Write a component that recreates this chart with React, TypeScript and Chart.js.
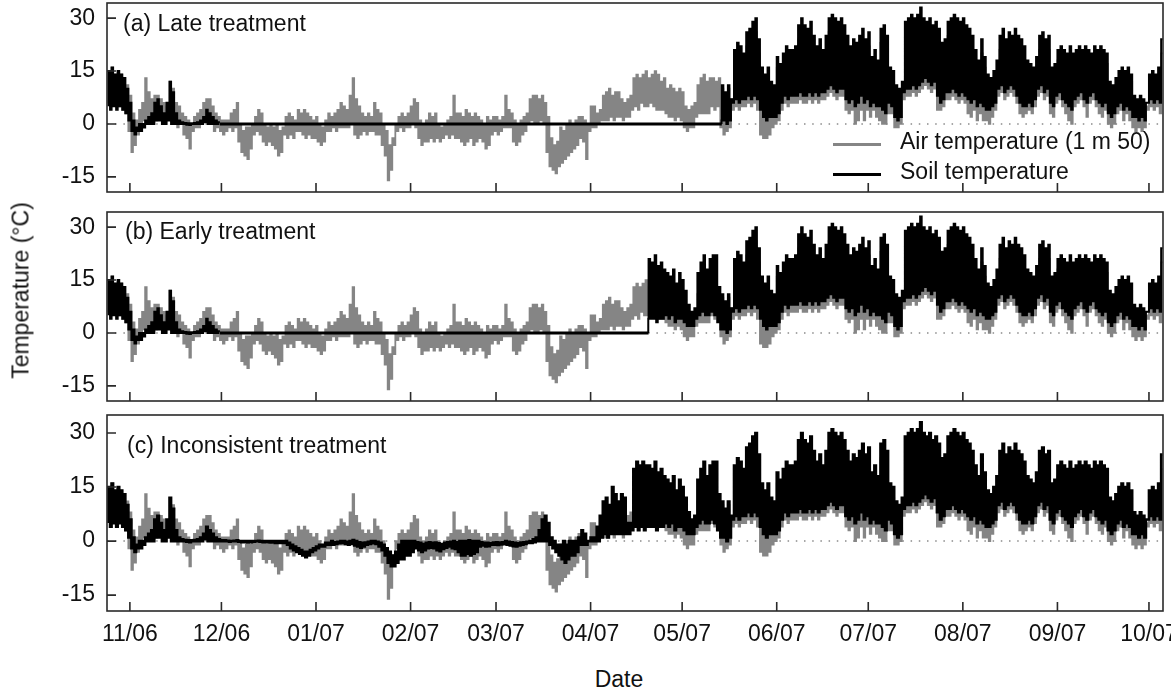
import { useEffect, useRef } from "react";
import { Chart, registerables } from "chart.js";

Chart.register(...registerables);

// Day index 0 = 1 Nov 2006. Each month row starts at the day listed here.
const monthStartDays = [-7, 0, 30, 61, 92, 120, 151, 181, 212, 242, 273, 304, 334];
const tickDays = [0, 30, 61, 92, 120, 151, 181, 212, 242, 273, 304, 334];
const tickLabels = ["11/06", "12/06", "01/07", "02/07", "03/07", "04/07", "05/07", "06/07", "07/07", "08/07", "09/07", "10/07"];
const yTickValues = [-15, 0, 15, 30];

// Daily maximum air temperature (1 m 50), °C — rows: Oct(25-31), Nov, Dec, Jan, Feb, Mar, Apr, May, Jun, Jul, Aug, Sep, Oct(1-5)
const airHigh = [
  [15, 16, 14, 15, 14, 13, 11],
  [8, 3, 1, 4, 6, 13, 9, 7, 8, 8, 7, 6, 5, 12, 10, 6, 5, 3, 2, 1, 0, 2, 3, 4, 6, 7, 7, 5, 3, 2],
  [1, 1, 1, 3, 4, 6, 0, -2, -1, -1, 0, 2, 4, 3, 0, -1, 0, -1, 0, -2, -1, 2, 3, 2, 1, 4, 3, 4, 3, 2, 1],
  [2, 0, -1, 1, 3, 2, 3, 4, 6, 5, 4, 8, 13, 7, 5, 3, 2, 3, 2, 6, 4, 3, 0, -2, -6, -4, 0, 2, 3, 2, 3],
  [5, 7, 6, 1, 0, 1, 3, 2, 3, 0, -1, 0, 1, 2, 8, 3, 3, 2, 4, 3, 2, 3, 2, 1, 0, 2, 1, 2],
  [2, 1, 2, 8, 4, 3, 1, 0, 1, 2, 3, 7, 8, 8, 7, 8, 6, 2, -4, -6, -5, -1, -2, 0, 1, 0, 1, 2, 2, 1, 0],
  [5, 5, 3, 4, 8, 9, 10, 8, 9, 9, 7, 6, 7, 8, 13, 14, 13, 14, 15, 13, 14, 15, 14, 12, 13, 10, 11, 10, 9, 10],
  [9, 5, 4, 5, 6, 11, 13, 14, 12, 13, 13, 12, 13, 10, 8, 10, 7, 18, 20, 19, 17, 22, 23, 25, 26, 20, 13, 11, 13, 10, 9],
  [16, 14, 17, 19, 18, 18, 19, 24, 26, 24, 23, 25, 21, 19, 20, 18, 21, 26, 27, 26, 25, 26, 24, 21, 19, 20, 19, 21, 23, 20],
  [22, 16, 18, 15, 23, 24, 21, 13, 12, 9, 8, 10, 25, 26, 27, 26, 27, 29, 26, 25, 26, 24, 25, 23, 19, 20, 25, 26, 27, 26, 25],
  [26, 24, 23, 21, 18, 15, 20, 16, 12, 11, 12, 15, 21, 23, 20, 22, 21, 23, 21, 20, 18, 15, 14, 13, 16, 21, 22, 20, 21, 13, 14],
  [18, 19, 18, 17, 18, 17, 18, 19, 18, 19, 18, 17, 19, 18, 19, 18, 17, 10, 9, 11, 13, 14, 13, 14, 12, 6, 6, 7, 6, 5],
  [12, 13, 12, 14, 20],
];

// Daily minimum air temperature, °C
const airLow = [
  [6, 5, 6, 5, 5, 4, 3],
  [-2, -8, -6, -3, -1, 1, 0, 1, 0, 1, 2, 1, 0, 2, 1, 0, -1, 0, -3, -4, -7, -2, -1, -1, 0, 1, 0, 0, -2, -1],
  [-2, -3, -2, -1, -2, -1, -5, -8, -9, -10, -7, -3, -2, -3, -5, -6, -5, -6, -7, -9, -8, -3, -4, -3, -4, -2, -2, -3, -4, -3, -4],
  [-4, -5, -6, -5, -2, -2, -1, -2, -1, -1, -1, -1, 0, -3, -4, -3, -2, -3, -2, -2, -3, -3, -6, -9, -16, -13, -6, -2, -1, -2, -1],
  [-1, 0, -1, -4, -6, -5, -5, -4, -5, -4, -5, -4, -3, -4, -3, -4, -4, -5, -6, -5, -4, -6, -5, -4, -5, -7, -6, -3],
  [-2, -3, -2, -1, -1, -1, -5, -6, -5, -3, -2, 0, 1, 0, 0, 1, 0, -8, -12, -13, -14, -12, -11, -10, -9, -8, -7, -6, -4, -5, -10],
  [-2, -1, -1, 0, 1, 1, 1, 2, 1, 2, 2, 1, 2, 2, 4, 5, 4, 6, 5, 5, 6, 5, 4, 4, 4, 3, 2, 2, 1, 2],
  [1, -1, -2, -1, -1, 2, 3, 3, 3, 3, 5, 4, 5, -1, -3, -2, -1, 4, 5, 4, 5, 5, 6, 5, 6, 4, -3, -4, -4, -3, -1],
  [0, 1, 4, 6, 5, 6, 6, 6, 7, 6, 6, 7, 6, 7, 6, 7, 7, 8, 9, 8, 7, 8, 8, 4, 3, 4, 0, 1, 4, 1],
  [4, 2, 4, 2, 1, 0, 0, 3, 3, -1, -1, 0, 7, 8, 8, 9, 8, 9, 10, 11, 10, 9, 10, 4, 4, 5, 7, 7, 8, 7, 6],
  [7, 6, 3, 2, 4, 1, 3, 1, 1, 0, 2, 4, 8, 9, 7, 8, 9, 8, 6, 3, 2, 3, 4, 3, 5, 8, 9, 7, 8, 3, 2],
  [6, 7, 5, 3, 1, 0, 5, 6, 7, 5, 2, 6, 7, 5, 3, 2, 4, 0, -1, 0, 3, 4, 1, 3, 1, -1, -2, -1, -2, -1],
  [4, 5, 4, 5, 3],
];

// Daily maximum soil temperature, °C
const soilHigh = [
  [15, 16, 14, 15, 14, 13, 10],
  [6, 1, -1, 0, 0, 1, 2, 3, 6, 7, 5, 3, 6, 12, 9, 3, 1, 0.5, 0.3, 0.2, 0.2, 0.3, 0.5, 1, 2, 4, 3, 2, 1, 0.5],
  [0.2, 0.2, 0.1, 0, 0.1, 0.2, 0, 0, 0, 0, 0, 0, 0.1, 0, 0, 0, 0, 0, 0, 0, 0, 0, -0.5, -1, -1.5, -2, -2.5, -3, -3, -2.5, -2],
  [-1.5, -1, -1, -0.5, -0.5, 0, -0.3, -0.2, 0, 0, -0.2, 0, 0.3, 0, -0.3, -0.5, -0.4, -0.2, 0, 0, -0.2, -0.5, -1, -2, -3, -4, -3, -1, 0, 0, 0],
  [0, 0, -0.3, -0.5, -0.8, -0.5, -0.3, -0.5, -0.4, -0.6, -0.8, -0.5, -0.3, -0.2, 0, -0.3, 0, 0, 0, 0.2, 0, 0, 0, -0.3, -0.5, -0.5, -0.6, -0.4],
  [-0.3, -0.4, -0.3, 0, -0.2, -0.3, -0.5, -0.6, -0.4, -0.3, -0.2, 0, 0.5, 1, 3, 6, 7, 5, 1, 0, -1, -1, 0, -1, 0, 0, 0, 1, 3, 2, 0],
  [1, 1, 4, 7, 11, 12, 10, 15, 13, 11, 13, 12, 5, 5, 20, 22, 21, 22, 21, 21, 20, 22, 19, 20, 18, 17, 16, 18, 14, 17],
  [15, 12, 8, 6, 7, 17, 20, 22, 18, 21, 22, 22, 13, 11, 9, 11, 7, 21, 23, 22, 20, 26, 27, 29, 30, 24, 16, 14, 16, 12, 11],
  [19, 17, 20, 22, 21, 21, 22, 28, 30, 28, 27, 29, 25, 22, 24, 21, 25, 30, 31, 30, 29, 30, 28, 25, 22, 24, 23, 25, 27, 24],
  [26, 19, 21, 18, 27, 28, 25, 16, 15, 11, 10, 12, 29, 30, 31, 30, 31, 33, 30, 29, 30, 28, 29, 27, 23, 24, 29, 30, 31, 30, 29],
  [30, 28, 27, 25, 21, 18, 24, 19, 14, 13, 15, 18, 25, 27, 24, 26, 25, 27, 25, 24, 22, 18, 17, 16, 19, 25, 26, 24, 25, 16, 17],
  [21, 22, 21, 20, 22, 20, 21, 22, 21, 22, 21, 20, 22, 21, 22, 21, 20, 12, 11, 13, 15, 16, 15, 16, 14, 8, 7, 8, 7, 6],
  [14, 15, 14, 16, 24],
];

// Daily minimum soil temperature, °C
const soilLow = [
  [5, 4, 5, 4, 5, 4, 3],
  [1, -2, -3, -2, -2, -1, 0, 0, 0, 1, 1, 0, 0, 1, 0, 0, 0, 0, 0, -0.2, -0.3, 0, 0, 0, 0, 0.5, 0, 0, 0, 0],
  [0, 0, 0, -0.2, 0, 0, -0.2, -0.3, -0.3, -0.4, -0.3, -0.2, 0, -0.2, -0.3, -0.3, -0.4, -0.4, -0.5, -0.5, -0.5, -0.5, -1, -2, -2.5, -3, -3.5, -4, -4.5, -4, -3],
  [-2.5, -2, -1.5, -1.5, -1, -1, -1, -0.8, -0.6, -0.5, -0.8, -1, -0.8, -1.2, -1.5, -1.8, -1.5, -1, -0.8, -0.6, -0.8, -1.5, -2.5, -4, -6, -7, -7, -6, -5, -5, -4],
  [-4, -3, -2, -2.5, -3, -2.5, -2, -1.8, -2, -2.5, -2.8, -2.2, -1.8, -1.5, -2, -2.2, -3, -4, -4, -3.5, -4, -3.5, -3, -1.5, -1.2, -1.5, -1.4, -1],
  [-1, -1.1, -0.9, -0.8, -1, -1.2, -1.4, -1.5, -1.2, -1, -0.8, -0.5, -0.5, -0.3, 0, 0, 0, 0, -1, -2, -3, -4, -5, -6, -5, -4, -4, -3, -1, -1, -1],
  [0, 0, 0, 0, 1, 2, 1, 2, 2, 2, 2, 2, 2, 2, 3, 4, 3, 4, 3, 4, 4, 4, 3, 4, 4, 5, 4, 5, 3, 4],
  [4, 3, 2, 2, 2, 4, 5, 6, 5, 5, 6, 5, 3, 1, 1, 0, 1, 6, 7, 6, 7, 7, 8, 7, 8, 7, 4, 2, 1, 2, 2],
  [2, 3, 6, 8, 7, 8, 8, 8, 9, 8, 8, 9, 8, 9, 8, 9, 9, 10, 11, 10, 9, 10, 10, 7, 6, 7, 5, 6, 8, 6],
  [7, 5, 6, 5, 5, 4, 3, 6, 5, 2, 1, 2, 9, 10, 10, 11, 10, 11, 12, 13, 12, 11, 12, 8, 6, 7, 9, 9, 10, 9, 8],
  [9, 8, 7, 6, 7, 5, 6, 5, 4, 4, 5, 6, 10, 11, 9, 10, 11, 10, 8, 6, 5, 5, 6, 5, 7, 10, 11, 9, 10, 6, 5],
  [8, 9, 7, 6, 5, 4, 7, 8, 9, 7, 6, 8, 9, 7, 6, 5, 6, 3, 2, 3, 5, 6, 4, 5, 4, 2, 2, 1, 2, 1],
  [6, 7, 6, 7, 6],
];

// Snow-cover windows in which the soil stays at 0 °C
const snowOnsetDay = 30;
const lateThawDay = 194;
const earlyThawDay = 170;
const firstDay = -7;
const lastDay = 338;

const FONT = "'Liberation Sans', Arial, Helvetica, sans-serif";
const FONT_SIZE = 23;

type Pt = { x: number; y: number };

function zigzag(hi: number[][], lo: number[][], from: number, to: number): Pt[] {
  const pts: Pt[] = [];
  monthStartDays.forEach((start, m) => {
    hi[m].forEach((h, i) => {
      const d = start + i;
      if (d < from || d > to) return;
      pts.push({ x: d, y: lo[m][i] });
      pts.push({ x: d + 0.5, y: h });
    });
  });
  return pts;
}

const framePlugin = {
  id: "panelFrame",
  beforeDatasetsDraw(chart: any) {
    const { ctx, chartArea, scales } = chart;
    const y0 = scales.y.getPixelForValue(0);
    ctx.save();
    ctx.strokeStyle = "#8a8a8a";
    ctx.lineWidth = 1.5;
    ctx.setLineDash([1.5, 6.7]);
    ctx.beginPath();
    ctx.moveTo(chartArea.left, y0);
    ctx.lineTo(chartArea.right, y0);
    ctx.stroke();
    ctx.restore();
  },
  afterDraw(chart: any) {
    const { ctx, chartArea, scales } = chart;
    const { left, right, top, bottom } = chartArea;
    ctx.save();
    ctx.strokeStyle = "#2a2a2a";
    ctx.lineWidth = 1.6;
    ctx.strokeRect(left, top, right - left, bottom - top);
    ctx.beginPath();
    tickDays.forEach((d) => {
      const px = scales.x.getPixelForValue(d);
      ctx.moveTo(px, bottom);
      ctx.lineTo(px, bottom - 9);
    });
    yTickValues.forEach((v) => {
      const py = scales.y.getPixelForValue(v);
      ctx.moveTo(left, py);
      ctx.lineTo(left + 9, py);
    });
    ctx.stroke();
    ctx.restore();
  },
};

function soilSet(data: Pt[], width = 2) {
  return {
    data,
    borderColor: "#000",
    borderWidth: width,
    pointRadius: 0,
    stepped: "after",
    fill: false,
    order: 0,
  };
}

function makePanel(
  canvas: HTMLCanvasElement,
  cfg: { padTop: number; padBottom: number; yMin: number; yMax: number; showX: boolean; soil: any[] }
) {
  const airSet = {
    data: zigzag(airHigh, airLow, firstDay, lastDay),
    borderColor: "#858585",
    borderWidth: 1.8,
    pointRadius: 0,
    stepped: "after",
    fill: false,
    order: 1,
  };
  return new Chart(canvas, {
    type: "line",
    data: { datasets: [...cfg.soil, airSet] as any },
    plugins: [framePlugin],
    options: {
      animation: false,
      responsive: false,
      events: [],
      layout: { padding: { top: cfg.padTop, bottom: cfg.padBottom, left: 0, right: 8 } },
      plugins: { legend: { display: false }, tooltip: { enabled: false } },
      scales: {
        x: {
          type: "linear",
          min: -7.5,
          max: 338.6,
          display: cfg.showX,
          grid: { display: false, drawTicks: false },
          border: { display: false },
          afterBuildTicks: (scale: any) => {
            scale.ticks = tickDays.map((v) => ({ value: v }));
          },
          afterFit: (scale: any) => {
            scale.height = cfg.showX ? 54 : 0;
            scale.paddingLeft = 0;
            scale.paddingRight = 0;
          },
          ticks: {
            autoSkip: false,
            maxRotation: 0,
            padding: 10,
            color: "#111",
            font: { family: FONT, size: FONT_SIZE },
            callback: (_v: any, i: number) => tickLabels[i],
          },
        },
        y: {
          type: "linear",
          min: cfg.yMin,
          max: cfg.yMax,
          grid: { display: false, drawTicks: false },
          border: { display: false },
          afterBuildTicks: (scale: any) => {
            scale.ticks = yTickValues.map((v) => ({ value: v }));
          },
          afterFit: (scale: any) => {
            scale.width = 107;
            scale.paddingTop = 0;
            scale.paddingBottom = 0;
          },
          ticks: {
            padding: 12,
            color: "#111",
            font: { family: FONT, size: FONT_SIZE },
            callback: (v: any) => String(v),
          },
        },
      },
    } as any,
  });
}

const textStyle = (left: number, top: number): React.CSSProperties => ({
  position: "absolute",
  left,
  top,
  fontSize: FONT_SIZE,
  lineHeight: `${FONT_SIZE}px`,
  whiteSpace: "nowrap",
  color: "#111",
});

export default function App() {
  const refA = useRef<HTMLCanvasElement>(null);
  const refB = useRef<HTMLCanvasElement>(null);
  const refC = useRef<HTMLCanvasElement>(null);

  useEffect(() => {
    const earlySoil = zigzag(soilHigh, soilLow, firstDay, snowOnsetDay - 1);
    const charts = [
      makePanel(refA.current!, {
        padTop: 3,
        padBottom: 8,
        yMin: -19.3,
        yMax: 34.3,
        showX: false,
        soil: [
          soilSet(earlySoil),
          soilSet([{ x: snowOnsetDay - 0.5, y: 0 }, { x: lateThawDay, y: 0 }], 3),
          soilSet([{ x: lateThawDay - 0.1, y: 0 }, ...zigzag(soilHigh, soilLow, lateThawDay, lastDay)]),
        ],
      }),
      makePanel(refB.current!, {
        padTop: 12,
        padBottom: 4,
        yMin: -19.3,
        yMax: 34.3,
        showX: false,
        soil: [
          soilSet(earlySoil),
          soilSet([{ x: snowOnsetDay - 0.5, y: 0 }, { x: earlyThawDay, y: 0 }], 3),
          soilSet([{ x: earlyThawDay - 0.1, y: 0 }, ...zigzag(soilHigh, soilLow, earlyThawDay, lastDay)]),
        ],
      }),
      makePanel(refC.current!, {
        padTop: 10,
        padBottom: 0,
        yMin: -19.4,
        yMax: 35,
        showX: true,
        soil: [soilSet(zigzag(soilHigh, soilLow, firstDay, lastDay), 2.6)],
      }),
    ];
    return () => charts.forEach((c) => c.destroy());
  }, []);

  return (
    <div
      style={{
        position: "absolute",
        left: 0,
        top: 0,
        width: 1171,
        height: 695,
        background: "#fff",
        fontFamily: FONT,
        overflow: "hidden",
      }}
    >
      <canvas ref={refA} width={1171} height={200} style={{ position: "absolute", left: 0, top: 0 }} />
      <canvas ref={refB} width={1171} height={205} style={{ position: "absolute", left: 0, top: 200 }} />
      <canvas ref={refC} width={1171} height={260} style={{ position: "absolute", left: 0, top: 405 }} />

      <div style={textStyle(123, 12)}>(a) Late treatment</div>
      <div style={textStyle(125, 220)}>(b) Early treatment</div>
      <div style={textStyle(127, 434)}>(c) Inconsistent treatment</div>

      <div style={{ position: "absolute", left: 833, top: 143, width: 48, height: 3, background: "#858585" }} />
      <div style={textStyle(900, 130)}>Air temperature (1 m 50)</div>
      <div style={{ position: "absolute", left: 833, top: 173, width: 48, height: 3, background: "#000" }} />
      <div style={textStyle(900, 160)}>Soil temperature</div>

      <div
        style={{
          ...textStyle(-99, 279),
          width: 240,
          textAlign: "center",
          transform: "rotate(-90deg)",
          transformOrigin: "120px 11.5px",
        }}
      >
        Temperature (°C)
      </div>
      <div style={{ ...textStyle(569, 668), width: 100, textAlign: "center" }}>Date</div>
    </div>
  );
}
